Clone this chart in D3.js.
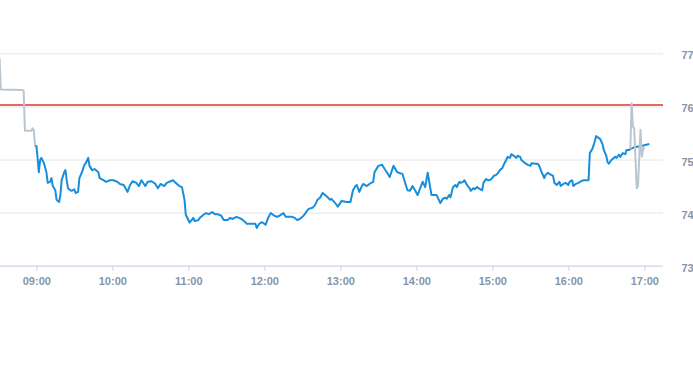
<!DOCTYPE html>
<html>
<head>
<meta charset="utf-8">
<script src="https://cdn.jsdelivr.net/npm/d3@7/dist/d3.min.js"></script>
<style>
  html, body { margin: 0; padding: 0; background: #ffffff; }
  svg { display: block; }
</style>
</head>
<body>
<svg id="chart" width="693" height="365"></svg>
<script>
// ---------- DATA ----------
const preTimes  = ["08:31","08:32","08:49","08:50","08:51","08:56","08:57","08:58","08:59","09:00"];
const prePrices = [76.91, 76.32, 76.31, 76.29, 75.54, 75.54, 75.59, 75.55, 75.25, 75.27];

const sessionTimes = [
  "09:00","09:01","09:02","09:03","09:04","09:06","09:08","09:09","09:11","09:12",
  "09:13","09:15","09:16","09:18","09:19","09:20","09:22","09:23","09:24","09:25",
  "09:27","09:28","09:30","09:31","09:33","09:34","09:36","09:38","09:39","09:41",
  "09:42","09:44","09:46","09:49","09:50","09:53","09:55","09:58","10:01","10:04",
  "10:06","10:09","10:12","10:14","10:16","10:19","10:21","10:23","10:26","10:28",
  "10:31","10:34","10:36","10:38","10:41","10:43","10:46","10:48","10:50","10:53",
  "10:55","10:57","10:58","11:00","11:01","11:04","11:05","11:08","11:09","11:12",
  "11:14","11:16","11:19","11:21","11:23","11:26","11:28","11:31","11:33","11:35",
  "11:38","11:40","11:42","11:45","11:46","11:49","11:51","11:53","11:54","11:56",
  "11:58","12:00","12:01","12:03","12:05","12:08","12:10","12:12","12:15","12:17",
  "12:19","12:22","12:24","12:26","12:28","12:31","12:33","12:35","12:38","12:40",
  "12:42","12:44","12:46","12:48","12:50","12:52","12:53","12:56","12:58","13:01",
  "13:05","13:08","13:10","13:12","13:13","13:15","13:17","13:18","13:21","13:23",
  "13:26","13:27","13:30","13:33","13:35","13:37","13:39","13:42","13:45","13:49",
  "13:50","13:53","13:55","13:57","13:59","14:01","14:05","14:07","14:09","14:12",
  "14:16","14:19","14:21","14:23","14:24","14:26","14:27","14:29","14:31","14:32",
  "14:34","14:35","14:37","14:38","14:40","14:42","14:43","14:45","14:46","14:48",
  "14:49","14:52","14:53","14:55","14:57","14:58","15:00","15:01","15:03","15:04",
  "15:06","15:08","15:09","15:11","15:12","15:14","15:15","15:17","15:19","15:20",
  "15:22","15:23","15:25","15:26","15:28","15:30","15:31","15:34","15:36","15:37",
  "15:39","15:41","15:42","15:44","15:45","15:48","15:49","15:51","15:53","15:54",
  "15:56","15:58","16:00","16:01","16:03","16:04","16:06","16:08","16:10","16:12",
  "16:16","16:17","16:19","16:20","16:22","16:23","16:25","16:27","16:28","16:30",
  "16:31","16:32","16:34","16:35","16:37","16:38","16:40","16:41","16:43","16:45",
  "16:46","16:48","16:49","16:51","16:54","16:57","17:00","17:04"
];
const sessionPrices = [
  75.27,75.03,74.76,74.99,75.03,74.93,74.76,74.56,74.58,74.65,
  74.50,74.42,74.24,74.20,74.33,74.61,74.76,74.80,74.61,74.46,
  74.42,74.41,74.44,74.37,74.39,74.65,74.76,74.90,74.93,75.03,
  74.88,74.80,74.82,74.76,74.65,74.61,74.58,74.61,74.61,74.58,
  74.54,74.52,74.39,74.52,74.59,74.56,74.50,74.61,74.50,74.58,
  74.59,74.54,74.46,74.54,74.50,74.56,74.59,74.61,74.56,74.50,
  74.48,74.24,73.96,73.86,73.81,73.90,73.84,73.86,73.90,73.96,
  73.99,73.97,74.01,73.97,73.97,73.94,73.86,73.86,73.90,73.88,
  73.92,73.90,73.88,73.82,73.79,73.79,73.79,73.79,73.71,73.79,
  73.82,73.79,73.77,73.90,73.99,73.94,73.92,73.94,73.99,73.92,
  73.92,73.92,73.90,73.86,73.88,73.94,74.01,74.07,74.09,74.14,
  74.24,74.28,74.37,74.33,74.29,74.24,74.26,74.18,74.11,74.22,
  74.20,74.20,74.42,74.50,74.52,74.39,74.50,74.54,74.50,74.54,
  74.58,74.76,74.88,74.90,74.82,74.75,74.67,74.88,74.76,74.73,
  74.65,74.42,74.41,74.50,74.42,74.33,74.58,74.48,74.75,74.33,
  74.33,74.18,74.26,74.28,74.26,74.33,74.29,74.48,74.52,74.48,
  74.58,74.56,74.58,74.61,74.52,74.46,74.41,74.46,74.44,74.48,
  74.46,74.42,74.56,74.63,74.61,74.61,74.65,74.69,74.71,74.73,
  74.80,74.84,74.90,74.99,75.05,75.03,75.10,75.07,75.03,75.07,
  75.05,74.99,74.95,74.93,74.90,74.88,74.93,74.92,74.92,74.88,
  74.76,74.65,74.71,74.75,74.73,74.69,74.56,74.52,74.58,74.50,
  74.54,74.56,74.52,74.58,74.61,74.50,74.54,74.56,74.59,74.61,
  74.61,75.12,75.20,75.27,75.44,75.42,75.39,75.29,75.18,75.07,
  74.95,74.92,74.99,75.01,75.05,75.03,75.09,75.05,75.12,75.10,
  75.18,75.18,75.20,75.22,75.24,75.25,75.27,75.29
];

const postTimes  = ["16:49","16:50","16:51","16:52","16:54","16:55","16:57","16:58","16:59","17:00"];
const postPrices = [75.20, 76.06, 75.62, 75.59, 74.46, 74.50, 75.56, 75.05, 75.18, 75.24];

const previousClose = 76.02;
const yTickValues = [73, 74, 75, 76, 77];
const xTickLabels = ["09:00","10:00","11:00","12:00","13:00","14:00","15:00","16:00","17:00"];
const xDomainLabels = ["08:31:20", "17:14:46"];

// ---------- CHART ----------
const svg = d3.select("#chart");
const plot = { left: 0, right: 663, top: 53.3, bottom: 265.7 };

const parseHM = d3.timeParse("%H:%M");
const parseHMS = d3.timeParse("%H:%M:%S");

const x = d3.scaleTime()
  .domain(xDomainLabels.map(parseHMS))
  .range([plot.left, plot.right]);
const y = d3.scaleLinear()
  .domain([73, 77])
  .range([plot.bottom, plot.top]);

const toSeries = (times, prices) => times.map((t, i) => ({ t: parseHM(t), v: prices[i] }));
const pre = toSeries(preTimes, prePrices);
const session = toSeries(sessionTimes, sessionPrices);
const post = toSeries(postTimes, postPrices);

const labelColor = "#8595aa";
const font = "'Liberation Sans', Arial, Helvetica, sans-serif";

svg.append("defs").append("clipPath").attr("id", "plotclip")
  .append("rect").attr("x", plot.left).attr("y", 0)
  .attr("width", plot.right - plot.left).attr("height", plot.bottom);

// grid lines + y labels on the right
const yAxis = d3.axisRight(y)
  .tickValues(yTickValues)
  .tickSize(plot.left - plot.right)
  .tickPadding(0)
  .tickFormat(d3.format("d"));
const gy = svg.append("g")
  .attr("transform", `translate(${plot.right},0)`)
  .call(yAxis);
gy.select(".domain").remove();
gy.selectAll(".tick line").attr("stroke", "#e6e6e6").attr("stroke-width", 1);
gy.selectAll(".tick text")
  .attr("x", 18.5).attr("dy", "0.32em").attr("y", 2)
  .attr("text-anchor", "start")
  .attr("fill", labelColor)
  .style("font-family", font).style("font-size", "11px").style("font-weight", "bold");

// x axis
const xAxis = d3.axisBottom(x)
  .tickValues(xTickLabels.map(parseHM))
  .tickSize(5)
  .tickPadding(7)
  .tickFormat(d3.timeFormat("%H:%M"));
const gx = svg.append("g")
  .attr("transform", `translate(0,${plot.bottom})`)
  .call(xAxis);
gx.select(".domain").attr("stroke", "#ccd6eb").attr("d", `M${plot.left},0.5H${plot.right}`);
gx.selectAll(".tick line").attr("stroke", "#ccd6eb");
gx.selectAll(".tick text")
  .attr("fill", labelColor)
  .style("font-family", font).style("font-size", "11px").style("font-weight", "bold");

// previous close line
const yc = Math.round(y(previousClose));
svg.append("rect")
  .attr("x", plot.left).attr("width", plot.right - plot.left)
  .attr("y", yc - 0.75).attr("height", 1.5)
  .attr("fill", "#e4352e");

const line = d3.line().x(d => x(d.t)).y(d => y(d.v)).curve(d3.curveLinear);
const g = svg.append("g").attr("clip-path", "url(#plotclip)");

g.append("path").datum(pre).attr("d", line)
  .attr("fill", "none").attr("stroke", "#b9c6cf").attr("stroke-width", 2)
  .attr("stroke-linejoin", "round");
g.append("path").datum(session).attr("d", line)
  .attr("fill", "none").attr("stroke", "#178edc").attr("stroke-width", 2)
  .attr("stroke-linejoin", "round");
g.append("path").datum(post).attr("d", line)
  .attr("fill", "none").attr("stroke", "#b9c6cf").attr("stroke-width", 2)
  .attr("stroke-linejoin", "round");
</script>
</body>
</html>
